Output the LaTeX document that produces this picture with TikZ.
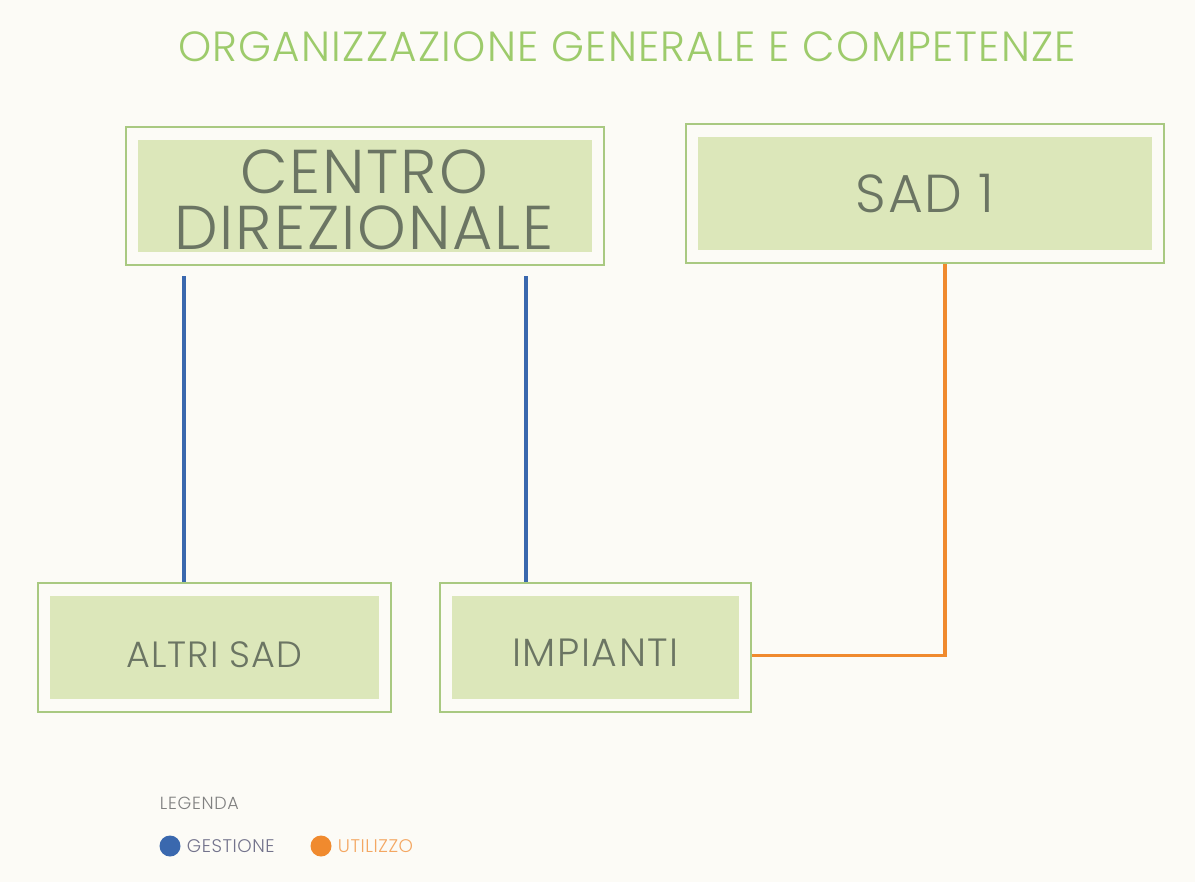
\documentclass[tikz,border=0pt]{standalone}
\usepackage{fontspec}
\setmainfont{Poppins}[UprightFont=* Light]
\definecolor{sfondo}{HTML}{FCFBF6}
\definecolor{verdetitolo}{HTML}{9DCB6B}
\definecolor{bordo}{HTML}{A9C981}
\definecolor{riempi}{HTML}{DCE7BA}
\definecolor{testo}{HTML}{6B7563}
\definecolor{gestione}{HTML}{3A68AE}
\definecolor{utilizzo}{HTML}{F08A2E}
\tikzset{
  box/.style={draw=bordo, line width=1.4pt, inner sep=0pt, text=testo,
    path picture={\fill[riempi] ([shift={(12*0.025cm,-13*0.025cm)}]path picture bounding box.north west)
      rectangle ([shift={(-12*0.025cm,13*0.025cm)}]path picture bounding box.south east);}},
  gest/.style={gestione, line width=2.2pt},
  util/.style={utilizzo, line width=2.2pt},
}
\begin{document}
\begin{tikzpicture}[x=0.025cm, y=-0.025cm]
        % Sfondo
        \fill[sfondo] (0,0) rectangle (1195,882);

        % Titolo
        \node[verdetitolo, font=\fontsize{30}{32}\selectfont\addfontfeatures{LetterSpace=3}] (titolo) at (627,47) {ORGANIZZAZIONE GENERALE E COMPETENZE};

        % Riquadri
        \node[box, minimum width=478*0.025cm, minimum height=138*0.025cm] (cd) at (365,196) {};
        \node[testo, align=center, font=\fontsize{44}{40}\selectfont\addfontfeatures{LetterSpace=3}] at (364,200) {CENTRO\\DIREZIONALE};
        \node[box, minimum width=478*0.025cm, minimum height=139*0.025cm,
              font=\fontsize{38}{40}\selectfont\addfontfeatures{LetterSpace=3}] (sad) at (925,193.5) {SAD 1};
        \node[box, minimum width=353*0.025cm, minimum height=129*0.025cm, text height=28pt, text depth=0pt,
              font=\fontsize{26}{28}\selectfont\addfontfeatures{LetterSpace=3}] (altri) at (214.5,647.5) {ALTRI SAD};
        \node[box, minimum width=311*0.025cm, minimum height=129*0.025cm, text height=26.5pt, text depth=0pt,
              font=\fontsize{28}{30}\selectfont\addfontfeatures{LetterSpace=4}] (imp) at (595.5,647.5) {IMPIANTI};

        % Collegamenti
        \coordinate (g1) at (184,276);
        \coordinate (g2) at (526,276);
        \draw[gest] (g1) -- (g1 |- altri.north);
        \draw[gest] (g2) -- (g2 |- imp.north);
        \draw[util] (sad.south -| 945,0) |- ([yshift=-8*0.025cm]imp.east);

        % Legenda
        \node[anchor=west, text=gray, font=\fontsize{12.5}{13}\selectfont\addfontfeatures{LetterSpace=4}] (leg) at (155,803) {LEGENDA};
        \fill[gestione] (170,846) circle (10.5);
        \node[anchor=west, text=gray!90!blue, font=\fontsize{13}{13}\selectfont\addfontfeatures{LetterSpace=3}] (lg) at (182,846) {GESTIONE};
        \fill[utilizzo] (321,846) circle (10.5);
        \node[anchor=west, text=utilizzo!75, font=\fontsize{13}{13}\selectfont\addfontfeatures{LetterSpace=3}] (lu) at (333,846) {UTILIZZO};
    \end{tikzpicture}
\end{document}
